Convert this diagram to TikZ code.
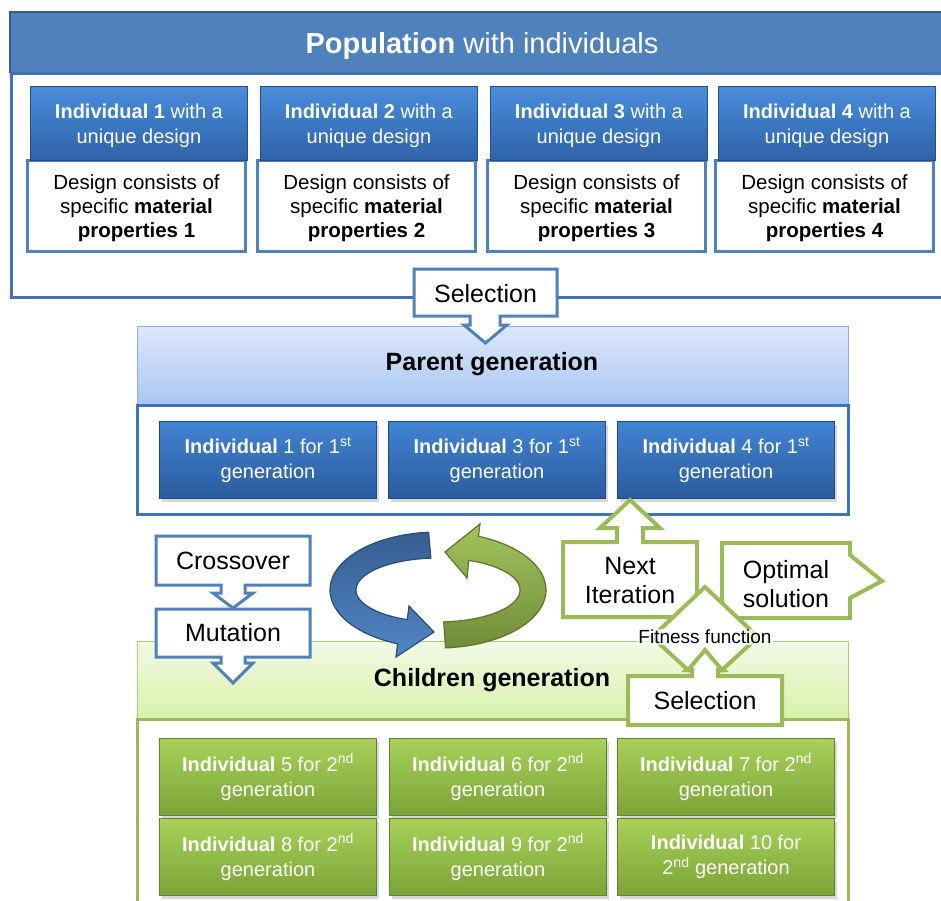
\documentclass[tikz,border=0pt]{standalone}
\usepackage{fontspec}
\setmainfont{Liberation Sans}
\usetikzlibrary{shadows}
\definecolor{popblue}{HTML}{4F81BD}
\definecolor{popdark}{HTML}{385D8A}
\definecolor{frameblue}{HTML}{3F73B8}
\definecolor{hdT}{HTML}{4A8DDC}
\definecolor{hdB}{HTML}{2E63A8}
\definecolor{cellT}{HTML}{4383D2}
\definecolor{cellB}{HTML}{2A5C9E}
\definecolor{celledge}{HTML}{22497C}
\definecolor{gr}{HTML}{9BBB59}
\definecolor{grdark}{HTML}{5F7A2E}
\definecolor{grT}{HTML}{A8D05A}
\definecolor{grB}{HTML}{7AA436}
\definecolor{phT}{HTML}{DCE8FB}
\definecolor{phB}{HTML}{A9C6F1}
\definecolor{phedge}{HTML}{8CAEE0}
\definecolor{chT}{HTML}{F2FAE6}
\definecolor{chB}{HTML}{D8F1AA}
\definecolor{ringbT}{HTML}{365E92}
\definecolor{ringbB}{HTML}{5286C6}
\definecolor{ringbE}{HTML}{2B4C78}
\definecolor{ringgT}{HTML}{A2C35E}
\definecolor{ringgB}{HTML}{718C38}
\definecolor{ringgE}{HTML}{5C7530}
\begin{document}
\begin{tikzpicture}[x=1pt,y=-1pt,
  hdbox/.style={draw=hdB!80!black, line width=0.8, top color=hdT, bottom color=hdB, minimum width=217, minimum height=74, inner sep=0},
  hdtxt/.style={align=center, text=white, font=\fontsize{20}{25}\selectfont, inner sep=0},
  designbox/.style={draw=popblue, line width=3, fill=white, minimum width=218, minimum height=91, inner sep=0},
  dtxt/.style={align=center, font=\fontsize{20.5}{24}\selectfont, inner sep=0},
  pcell/.style={draw=celledge, line width=1, top color=cellT, bottom color=cellB, minimum width=217, minimum height=77, inner sep=0, align=center, text=white, font=\fontsize{20}{25}\selectfont, drop shadow={shadow xshift=2pt, shadow yshift=-3pt, opacity=0.3}},
  ccell/.style={draw=grB!80!black, line width=1, top color=grT, bottom color=grB, minimum width=217, minimum height=77, inner sep=0, align=center, text=white, font=\fontsize{20}{25}\selectfont, drop shadow={shadow xshift=2pt, shadow yshift=-3pt, opacity=0.3}},
  bluecall/.style={draw=popblue, line width=3, fill=white, line join=miter},
  greencall/.style={draw=gr, line width=4, fill=white, line join=miter},
  lbl/.style={font=\fontsize{25}{29}\selectfont, align=center, inner sep=0},
  ttl/.style={font=\fontsize{25}{29}\selectfont\bfseries, inner sep=0}
]
\clip (0,0) rectangle (941,900);
\fill[white] (0,0) rectangle (941,900);

% ---------- Population ----------
\fill[popblue] (10,12) rectangle (960,73);
\draw[popdark, line width=2.5] (10,73) -- (10,12) -- (960,12);
\node[font=\fontsize{29}{33}\selectfont, text=white, inner sep=0] (poptitle) at (482,46) {\textbf{Population} with individuals};
\draw[frameblue, line width=3] (11,73) rectangle (960,297);

\foreach \n/\x in {1/26, 2/256, 3/486, 4/714}{
  \node[designbox, anchor=north west] (d\n) at (\x,159) {};
  \node[dtxt] (dt\n) at ([yshift=-2.5]d\n.center) {Design consists of\\specific \textbf{material}\\\textbf{properties \n}};
  \node[hdbox, anchor=north west] (h\n) at (\x+4,86) {};
  \node[hdtxt] (ht\n) at ([yshift=-2.5]h\n.center) {\textbf{Individual \n} with a\\unique design};
}

% ---------- Parent generation ----------
\draw[phedge, line width=1, top color=phT, bottom color=phB] (137,326) rectangle (848,404);
\node[ttl] (ptitle) at (492,364) {Parent generation};
\draw[frameblue, line width=3, fill=white] (137,405) rectangle (848,514);
\node[pcell, anchor=north west] (p1) at (159,421) {\textbf{Individual} 1 for 1\textsuperscript{st}\\generation};
\node[pcell, anchor=north west] (p3) at (388,421) {\textbf{Individual} 3 for 1\textsuperscript{st}\\generation};
\node[pcell, anchor=north west] (p4) at (617,421) {\textbf{Individual} 4 for 1\textsuperscript{st}\\generation};

% Selection (top)
\draw[bluecall] (414,269) -- (557,269) -- (557,316) -- (500,316) -- (500,325) -- (507,325) -- (485.5,343) -- (464,325) -- (470,325) -- (470,316) -- (414,316) -- cycle;
\node[lbl] (sel1) at (485.5,294) {Selection};

% ---------- Children generation ----------
\draw[gr!80, line width=1, top color=chT, bottom color=chB] (137,641) rectangle (848,718);
\node[ttl] (ctitle) at (492,680) {Children generation};
\draw[gr, line width=3, fill=white] (137,719) rectangle (848,910);
\node[ccell, anchor=north west] (c5) at (159,738) {\textbf{Individual} 5 for 2\textsuperscript{nd}\\generation};
\node[ccell, anchor=north west] (c6) at (389,738) {\textbf{Individual} 6 for 2\textsuperscript{nd}\\generation};
\node[ccell, anchor=north west] (c7) at (617,738) {\textbf{Individual} 7 for 2\textsuperscript{nd}\\generation};
\node[ccell, anchor=north west] (c8) at (159,818) {\textbf{Individual} 8 for 2\textsuperscript{nd}\\generation};
\node[ccell, anchor=north west] (c9) at (389,818) {\textbf{Individual} 9 for 2\textsuperscript{nd}\\generation};
\node[ccell, anchor=north west] (c10) at (617,818) {\textbf{Individual} 10 for\\2\textsuperscript{nd} generation};

% ---------- Ring arrows ----------
\path[draw=ringbE, line width=1.2, top color=ringbT, bottom color=ringbB, line join=miter]
  plot[domain=265:112, samples=50] ({438+108*cos(\x)},{590+58*sin(\x)})
  -- (396,657) -- (434,632) -- (409,606)
  -- plot[domain=112:265, samples=50] ({438+82*cos(\x)},{590+32*sin(\x)}) -- cycle;
\path[draw=ringgE, line width=1.2, top color=ringgT, bottom color=ringgB, line join=miter]
  plot[domain=86:-68, samples=50] ({438+108*cos(\x)},{590+58*sin(\x)})
  -- (480,524) -- (445,552) -- (467,578)
  -- plot[domain=-68:86, samples=50] ({438+82*cos(\x)},{590+32*sin(\x)}) -- cycle;

% Crossover / Mutation
\draw[bluecall] (156,536) -- (310,536) -- (310,585) -- (245,585) -- (245,593) -- (253,593) -- (233,608) -- (213,593) -- (221,593) -- (221,585) -- (156,585) -- cycle;
\node[lbl] (cross) at (233,561) {Crossover};
\draw[bluecall] (156,609) -- (310,609) -- (310,657) -- (245,657) -- (245,663) -- (253,663) -- (233,683) -- (213,663) -- (221,663) -- (221,657) -- (156,657) -- cycle;
\node[lbl] (mut) at (233,633) {Mutation};

% Next Iteration
\draw[greencall] (563,542) -- (617,542) -- (617,528) -- (600,528) -- (630,500) -- (660,528) -- (643,528) -- (643,542) -- (697,542) -- (697,617) -- (563,617) -- cycle;
\node[lbl] (next) at (630,581) {Next\\Iteration};

% Optimal solution
\draw[greencall] (722,543) -- (850,543) -- (850,555) -- (882,581) -- (850,598) -- (850,618) -- (722,618) -- cycle;
\node[lbl] (opt) at (786,584) {Optimal\\solution};

% Selection (bottom)
\draw[greencall] (628,676) -- (692,676) -- (692,670) -- (686,670) -- (705,649) -- (724,670) -- (718,670) -- (718,676) -- (782,676) -- (782,725) -- (628,725) -- cycle;
\node[lbl] (sel2) at (705,701) {Selection};

% Fitness chevron
\draw[greencall] (705,587) -- (652,637) -- (688,670) -- (705,650) -- (722,670) -- (758,637) -- cycle;
\node[font=\fontsize{19}{22}\selectfont, fill=white, fill opacity=0.7, text opacity=1, inner sep=1] (fit) at (705,637) {Fitness function};
\end{tikzpicture}
\end{document}
